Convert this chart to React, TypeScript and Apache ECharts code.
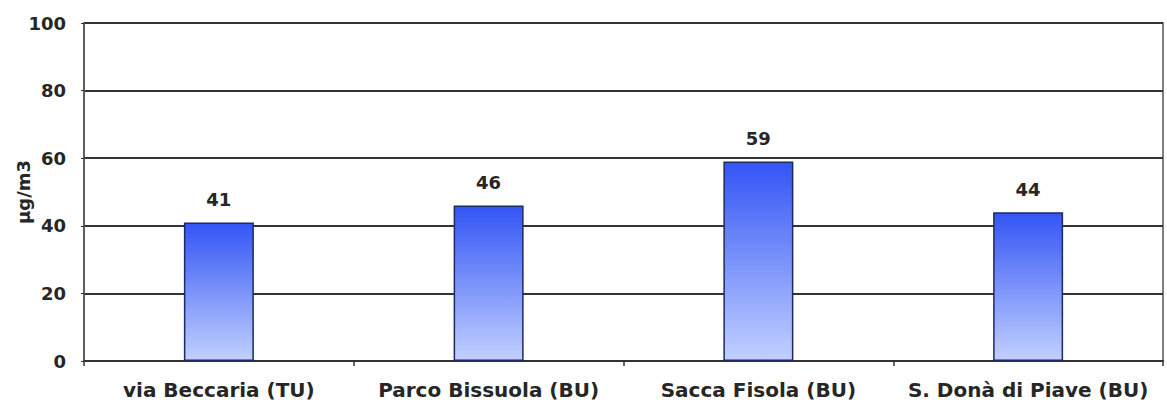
import React, { useEffect, useRef } from "react";
import * as echarts from "echarts";

const categories = ["via Beccaria (TU)", "Parco Bissuola (BU)", "Sacca Fisola (BU)", "S. Donà di Piave (BU)"];
const values = [41, 46, 59, 44];
const yTicks = { min: 0, max: 100, interval: 20 };
const yName = "µg/m3";

export default function App() {
  const ref = useRef<HTMLDivElement>(null);
  useEffect(() => {
    if (!ref.current) return;
    const chart = echarts.init(ref.current, undefined, { renderer: "svg" });
    const font = "'DejaVu Sans', Arial, sans-serif";
    chart.setOption({
      animation: false,
      grid: {
        left: 84, right: 4, top: 23, bottom: 42, show: true, borderColor: "#555", borderWidth: 1.5,
        containLabel: false, outerBoundsMode: "none",
      },
      xAxis: {
        type: "category",
        data: categories,
        axisLine: { show: true, lineStyle: { color: "#333", width: 2 } },
        axisTick: { show: true, alignWithLabel: false, length: 5, lineStyle: { color: "#333", width: 1.5 } },
        axisLabel: { interval: 0, hideOverlap: false, color: "#262626", fontFamily: font, fontWeight: "bold", fontSize: 20, margin: 19 },
      },
      yAxis: {
        type: "value",
        min: yTicks.min,
        max: yTicks.max,
        interval: yTicks.interval,
        name: yName,
        nameLocation: "middle",
        nameGap: 52,
        nameMoveOverlap: false,
        nameRotate: 90,
        nameTextStyle: { color: "#262626", fontFamily: font, fontWeight: "bold", fontSize: 18 },
        axisLine: { show: true, lineStyle: { color: "#555", width: 1.5 } },
        axisTick: { show: true, length: 3, lineStyle: { color: "#333" } },
        axisLabel: { color: "#262626", fontFamily: font, fontWeight: "bold", fontSize: 18, margin: 18 },
        splitLine: { show: true, lineStyle: { color: "#333", width: 2 } },
      },
      series: [
        {
          type: "bar",
          data: values,
          barWidth: 70,
          itemStyle: {
            color: new echarts.graphic.LinearGradient(0, 0, 0, 1, [
              { offset: 0, color: "#3355f5" },
              { offset: 1, color: "#c2d0ff" },
            ]),
            borderColor: "#1d2a66",
            borderWidth: 1.5,
          },
          label: {
            show: true,
            position: "top",
            distance: 14,
            color: "#262626",
            fontFamily: font,
            fontWeight: "bold",
            fontSize: 18,
          },
        },
      ],
    });
    return () => chart.dispose();
  }, []);
  return <div ref={ref} style={{ position: "fixed", left: 0, top: 0, width: 1167, height: 403, background: "#fff" }} />;
}
